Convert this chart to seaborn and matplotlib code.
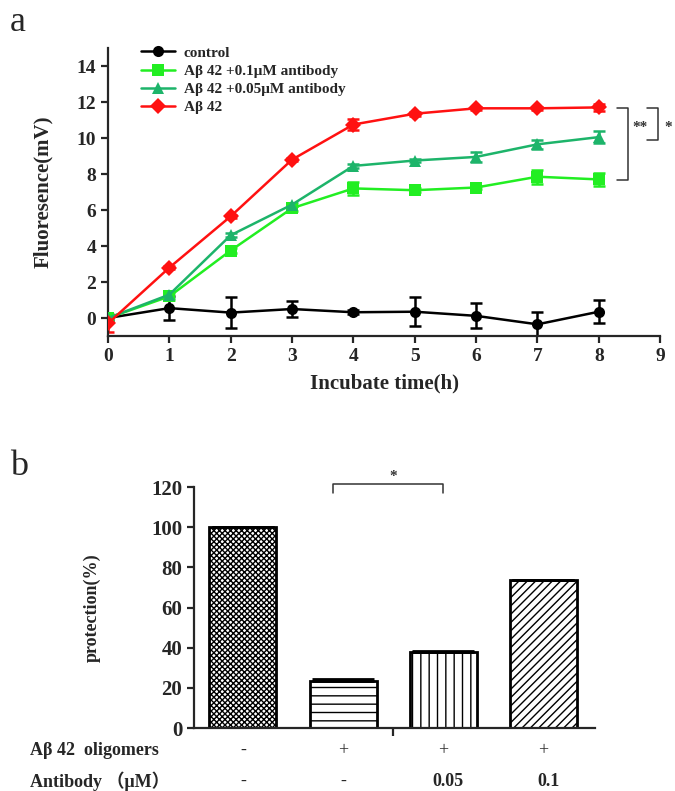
import numpy as np
import pandas as pd
import matplotlib
matplotlib.use('Agg')
import matplotlib.pyplot as plt
import seaborn as sns

# ---- data: panel a (fluorescence over time) ----
hours = [0, 1, 2, 3, 4, 5, 6, 7, 8]
control = [0.0, 0.55, 0.3, 0.5, 0.32, 0.35, 0.12, -0.35, 0.35]
control_err = [0.1, 0.65, 0.85, 0.45, 0.1, 0.8, 0.7, 0.7, 0.65]
ab_01 = [0.0, 1.2, 3.75, 6.1, 7.2, 7.1, 7.25, 7.85, 7.7]
ab_01_err = [0.15, 0.2, 0.15, 0.15, 0.35, 0.1, 0.1, 0.4, 0.35]
ab_005 = [0.0, 1.3, 4.6, 6.3, 8.45, 8.75, 8.95, 9.65, 10.05]
ab_005_err = [0.1, 0.2, 0.1, 0.1, 0.1, 0.1, 0.3, 0.25, 0.35]
abeta = [-0.3, 2.8, 5.65, 8.8, 10.75, 11.35, 11.65, 11.65, 11.7]
abeta_err = [0.5, 0.1, 0.1, 0.1, 0.3, 0.1, 0.1, 0.1, 0.2]
series_names = ['control', 'Aβ 42 +0.1μM antibody', 'Aβ 42 +0.05μM antibody', 'Aβ 42']

# ---- data: panel b (protection) ----
groups = ['g1', 'g2', 'g3', 'g4']
protection = [100.0, 23.5, 37.8, 73.5]
protection_err = [0.0, 0.8, 0.6, 0.0]
oligomer_row = ['-', '+', '+', '+']
antibody_row = ['-', '-', '0.05', '0.1']

sns.set_style('ticks')
serif = ['Liberation Serif', 'DejaVu Serif']
plt.rcParams['font.family'] = serif
plt.rcParams['font.weight'] = 'bold'
plt.rcParams['axes.linewidth'] = 1.6

fig = plt.figure(figsize=(6.75, 7.91), dpi=100)

# ================= panel a =================
ax1 = fig.add_axes([0.16, 0.5752, 0.818, 0.3641])
df = pd.DataFrame({
    'time': hours * 4,
    'value': control + ab_01 + ab_005 + abeta,
    'group': [s for s in series_names for _ in hours],
})
colors = ['black', '#22ee22', '#1db46a', '#ff1111']
markers = ['o', 's', '^', 'D']
errs = [control_err, ab_01_err, ab_005_err, abeta_err]
vals = [control, ab_01, ab_005, abeta]
for name, c, m, v, e in zip(series_names, colors, markers, vals, errs):
    ax1.errorbar(hours, v, yerr=e, fmt='none', ecolor=c, elinewidth=1.8,
                 capsize=4.5, capthick=1.8, zorder=2)
sns.lineplot(data=df, x='time', y='value', hue='group', style='group',
             hue_order=series_names, style_order=series_names,
             palette=colors, markers=markers, dashes=False,
             markersize=8, markeredgewidth=0, linewidth=1.8,
             ax=ax1, zorder=3)

ax1.set_xlim(0, 9)
ax1.set_ylim(-1, 15)
ax1.set_xticks(range(0, 10))
ax1.set_yticks(range(0, 15, 2))
ax1.tick_params(labelsize=14, width=1.6, length=5)
sns.despine(ax=ax1)
ax1.set_xlabel('Incubate time(h)', fontsize=15, fontweight='bold', labelpad=6)
ax1.set_ylabel('Fluoresence(mV)', fontsize=15, fontweight='bold', labelpad=17)
for lab in ax1.get_xticklabels() + ax1.get_yticklabels():
    lab.set_fontweight('bold')

leg = ax1.legend(loc='upper left', bbox_to_anchor=(0.035, 1.055), frameon=False,
                 handlelength=2.2, labelspacing=0.3, handletextpad=0.6,
                 prop={'weight': 'bold', 'size': 11, 'family': serif})

# significance brackets
kw = dict(color='#333333', lw=1.1, clip_on=False)
ax1.plot([8.3, 8.47, 8.47, 8.3], [11.67, 11.67, 7.67, 7.67], **kw)
ax1.plot([8.78, 8.96, 8.96, 8.78], [11.67, 11.67, 9.9, 9.9], **kw)
ax1.text(8.67, 10.6, '**', fontsize=11, ha='center', va='center', color='#333333')
ax1.text(9.13, 10.6, '*', fontsize=11, ha='center', va='center', color='#333333')

fig.text(0.015, 0.972, 'a', fontsize=26, fontweight='normal', va='center')

# ================= panel b =================
ax2 = fig.add_axes([0.2874, 0.0796, 0.5941, 0.3047])
plt.rcParams['hatch.linewidth'] = 1.0
dfb = pd.DataFrame({'group': groups, 'protection': protection})
sns.barplot(data=dfb, x='group', y='protection', color='white', width=0.67,
            edgecolor='black', linewidth=2, ax=ax2, zorder=2)
hatches = ['xxxxxx', '--', '||', '////']
for patch, h in zip(ax2.patches, hatches):
    patch.set_hatch(h)
ax2.errorbar(range(4), protection, yerr=[[0] * 4, protection_err], fmt='none',
             ecolor='black', elinewidth=2, capsize=22, capthick=2, zorder=3)

ax2.set_xlim(-0.49, 3.52)
ax2.set_ylim(0, 120)
ax2.set_yticks(range(0, 121, 20))
ax2.set_xticks([1.5])
ax2.set_xticklabels([''])
ax2.tick_params(axis='y', labelsize=15, width=1.6, length=5)
ax2.tick_params(axis='x', width=1.6, length=6)
sns.despine(ax=ax2)
ax2.set_xlabel('')
ax2.set_ylabel('protection(%)', fontsize=13, fontweight='bold', labelpad=36)
for lab in ax2.get_yticklabels():
    lab.set_fontweight('bold')

# significance bracket
ax2.plot([0.9, 0.9, 2.0, 2.0], [117, 121.5, 121.5, 117], color='#333333', lw=1.1, clip_on=False)
ax2.text(1.5, 125, '*', fontsize=11, ha='center', va='center', color='#333333')

# condition table under the bars
cjk = ['Liberation Serif', 'Noto Sans CJK SC']
ax2.text(-2.13, -11, 'Aβ 42  oligomers', fontsize=13, fontweight='bold', va='center')
ax2.text(-2.13, -26.5, 'Antibody （μM）', fontsize=13, fontweight='bold', va='center',
         family=cjk)
for i, (o, a) in enumerate(zip(oligomer_row, antibody_row)):
    ax2.text(i, -11, o, fontsize=13, ha='center', va='center', fontweight='normal')
    ax2.text(i + (0.05 if a != '-' else 0), -26.5, a, fontsize=13, ha='center',
             va='center', fontweight='bold' if a != '-' else 'normal')

fig.text(0.015, 0.41, 'b', fontsize=26, fontweight='normal', va='center')

fig.savefig('out.png', dpi=100)
